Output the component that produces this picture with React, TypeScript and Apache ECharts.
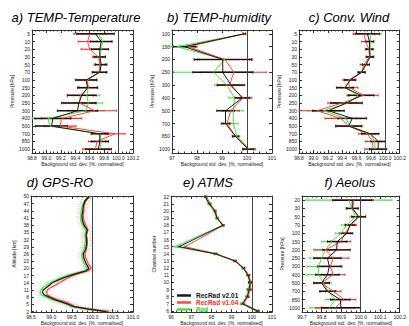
import React, { useEffect, useRef } from 'react';
import * as echarts from 'echarts';

// ---------- data ----------
const tempLevels = ['5', '10', '20', '30', '50', '70', '100', '150', '200', '250', '300', '400', '500', '700', '850', '1000'];
const humLevels = ['100', '150', '200', '250', '300', '400', '500', '700', '850', '1000'];
const windLevels = ['5', '10', '20', '30', '50', '70', '100', '150', '200', '250', '300', '400', '500', '700', '850', '1000'];
const aeolusLevels = ['20', '30', '50', '70', '100', '150', '200', '250', '300', '400', '500', '700', '850', '1000'];
const gpsAltitudes = [2, 3, 4, 5, 6, 7, 8, 9, 10, 11, 12, 13, 14, 15, 16, 17, 18, 19, 20, 22, 24, 26, 28, 30, 32, 34, 36, 38, 40, 42, 44, 46, 48, 50];
const gpsTicks = [2, 5, 8, 11, 14, 17, 20, 23, 26, 29, 32, 35, 38, 41, 44, 47, 50];
const atmsChannels = [22, 21, 20, 19, 18, 15, 14, 13, 12, 11, 10, 9, 8, 7, 6];
const atmsTicks = [6, 7, 8, 9, 10, 11, 12, 13, 14, 15, 16, 17, 18, 19, 20, 21, 22];

// a) TEMP-Temperature
const tempTV201 = [99.68, 99.76, 99.74, 99.74, 99.76, 99.74, 99.55, 99.57, 99.49, 99.45, 99.43, 99.09, 99.07, 99.74, 99.74, 99.72];
const tempTV104 = [99.6, 99.57, 99.6, 99.72, 99.74, 99.73, 99.56, 99.58, 99.47, 99.46, 99.67, 99.21, 99.19, 99.95, 99.7, 99.68];
const tempTRad = [99.72, 99.78, 99.76, 99.74, 99.74, 99.74, 99.57, 99.58, 99.56, 99.58, 99.55, 99.02, 99.05, 99.74, 99.76, 99.74];
const tempTErrV201 = [0.26, 0.15, 0.12, 0.08, 0.08, 0.1, 0.15, 0.14, 0.2, 0.24, 0.28, 0.25, 0.22, 0.12, 0.12, 0.18];
const tempTErrV104 = [0.22, 0.13, 0.12, 0.08, 0.08, 0.1, 0.14, 0.13, 0.18, 0.22, 0.3, 0.28, 0.22, 0.14, 0.12, 0.18];
const tempTErrRad = [0.22, 0.13, 0.1, 0.08, 0.07, 0.08, 0.12, 0.12, 0.18, 0.2, 0.25, 0.22, 0.2, 0.12, 0.1, 0.16];

// b) TEMP-humidity
const tempHV201 = [99.88, 97.5, 99.03, 99.03, 99.36, 99.81, 99.14, 99.14, 99.54, 100.05];
const tempHV104 = [99.9, 97.65, 99.12, 99.47, 99.3, 99.85, 99.35, 99.2, 99.55, 100.08];
const tempHRad = [99.9, 97.2, 99.1, 98.66, 99.2, 99.5, 99.45, 99.45, 99.6, 100.1];
const tempHErrV201 = [0.05, 0.45, 1.15, 1.2, 0.55, 0.3, 0.35, 0.17, 0.13, 0.22];
const tempHErrV104 = [0.05, 0.35, 1.1, 1.3, 0.5, 0.35, 0.35, 0.15, 0.12, 0.25];
const tempHErrRad = [0.05, 0.4, 1.0, 1.6, 0.5, 0.25, 0.4, 0.2, 0.12, 0.25];

// c) Conv. Wind
const windV201 = [99.75, 99.78, 99.78, 99.79, 99.73, 99.67, 99.51, 99.44, 99.66, 99.46, 99.21, 99.54, 99.49, 99.79, 99.9, 99.9];
const windV104 = [99.7, 99.73, 99.77, 99.78, 99.7, 99.67, 99.49, 99.5, 99.7, 99.4, 99.05, 99.38, 99.49, 99.75, 99.82, 99.83];
const windRad = [99.79, 99.79, 99.79, 99.78, 99.73, 99.67, 99.51, 99.44, 99.62, 99.48, 99.14, 99.45, 99.51, 99.79, 99.85, 99.86];
const windErrV201 = [0.17, 0.06, 0.05, 0.05, 0.05, 0.05, 0.08, 0.12, 0.18, 0.22, 0.22, 0.2, 0.18, 0.12, 0.1, 0.12];
const windErrV104 = [0.15, 0.06, 0.05, 0.05, 0.05, 0.05, 0.08, 0.12, 0.2, 0.2, 0.25, 0.22, 0.18, 0.12, 0.1, 0.12];
const windErrRad = [0.16, 0.05, 0.05, 0.05, 0.05, 0.05, 0.08, 0.1, 0.16, 0.2, 0.22, 0.2, 0.18, 0.12, 0.1, 0.12];

// d) GPS-RO
const gpsV201 = [100.35, 99.92, 99.55, 99.42, 99.25, 99.08, 98.95, 98.82, 98.78, 98.8, 98.88, 98.95, 99.02, 99.15, 99.3, 99.45, 99.65, 99.85, 99.92, 99.85, 99.8, 99.78, 99.84, 99.86, 99.86, 99.85, 99.88, 99.8, 99.76, 99.75, 99.77, 99.78, 99.82, 99.92];
const gpsV104 = [100.42, 99.95, 99.6, 99.48, 99.35, 99.15, 99.0, 98.9, 98.88, 98.9, 98.98, 99.1, 99.2, 99.3, 99.4, 99.52, 99.7, 99.9, 99.98, 99.9, 99.85, 99.82, 99.86, 99.88, 99.88, 99.86, 99.9, 99.84, 99.8, 99.78, 99.8, 99.8, 99.84, 99.94];
const gpsRad = [100.3, 99.88, 99.5, 99.38, 99.2, 99.02, 98.88, 98.75, 98.72, 98.74, 98.8, 98.88, 98.98, 99.1, 99.22, 99.38, 99.6, 99.8, 99.88, 99.8, 99.76, 99.74, 99.8, 99.82, 99.83, 99.82, 99.84, 99.76, 99.72, 99.72, 99.73, 99.75, 99.8, 99.9];
const gpsSpreadV201 = [0.3, 0.2, 0.15, 0.15, 0.15, 0.14, 0.14, 0.13, 0.12, 0.12, 0.12, 0.12, 0.12, 0.12, 0.12, 0.12, 0.12, 0.12, 0.1, 0.1, 0.1, 0.1, 0.1, 0.1, 0.1, 0.1, 0.1, 0.1, 0.1, 0.1, 0.1, 0.1, 0.1, 0.1];
const gpsSpreadV104 = [0.32, 0.22, 0.16, 0.15, 0.15, 0.15, 0.14, 0.14, 0.13, 0.13, 0.12, 0.12, 0.12, 0.12, 0.12, 0.12, 0.12, 0.12, 0.11, 0.1, 0.1, 0.1, 0.1, 0.1, 0.1, 0.1, 0.1, 0.1, 0.1, 0.1, 0.1, 0.1, 0.1, 0.1];
const gpsSpreadRad = [0.28, 0.2, 0.15, 0.14, 0.14, 0.14, 0.13, 0.13, 0.12, 0.12, 0.12, 0.12, 0.12, 0.12, 0.12, 0.12, 0.12, 0.11, 0.1, 0.1, 0.1, 0.1, 0.1, 0.1, 0.1, 0.1, 0.1, 0.1, 0.1, 0.1, 0.1, 0.1, 0.1, 0.1];

// e) ATMS
const atmsV201 = [97.7, 97.9, 98.17, 98.28, 98.57, 96.4, 98.2, 99.17, 99.58, 99.82, 99.92, 99.87, 99.78, 99.53, 100.28];
const atmsV104 = [97.75, 97.95, 98.2, 98.3, 98.6, 96.7, 98.25, 99.2, 99.62, 99.85, 99.95, 99.92, 99.82, 99.6, 100.32];
const atmsRad = [97.68, 97.85, 98.12, 98.25, 98.55, 96.2, 98.15, 99.15, 99.56, 99.8, 99.9, 99.82, 99.75, 99.48, 100.22];
const atmsErrV201 = [0.04, 0.04, 0.04, 0.04, 0.04, 0.05, 0.05, 0.05, 0.05, 0.06, 0.08, 0.08, 0.06, 0.06, 0.06];
const atmsErrV104 = [0.04, 0.04, 0.04, 0.04, 0.04, 0.05, 0.05, 0.05, 0.05, 0.06, 0.08, 0.08, 0.06, 0.06, 0.06];
const atmsErrRad = [0.04, 0.04, 0.04, 0.04, 0.04, 0.05, 0.05, 0.05, 0.05, 0.06, 0.08, 0.08, 0.06, 0.06, 0.06];

// f) Aeolus
const aeolusV201 = [99.957, 99.957, 99.99, 99.946, 99.93, 99.88, 99.877, 99.83, 99.84, 99.83, 99.8, 99.83, 99.895, 99.9];
const aeolusV104 = [99.965, 99.96, 99.99, 99.95, 99.92, 99.9, 99.82, 99.86, 99.845, 99.86, 99.8, 99.86, 99.915, 99.87];
const aeolusRad = [99.94, 99.955, 99.975, 99.93, 99.9, 99.85, 99.82, 99.8, 99.785, 99.785, 99.81, 99.835, 99.87, 99.84];
const aeolusErrV201 = [0.1, 0.03, 0.035, 0.025, 0.03, 0.05, 0.07, 0.07, 0.06, 0.06, 0.04, 0.04, 0.05, 0.1];
const aeolusErrV104 = [0.1, 0.03, 0.035, 0.03, 0.03, 0.05, 0.06, 0.08, 0.06, 0.06, 0.04, 0.04, 0.06, 0.1];
const aeolusErrRad = [0.22, 0.03, 0.03, 0.03, 0.03, 0.05, 0.05, 0.06, 0.06, 0.06, 0.04, 0.04, 0.05, 0.1];

// ---------- styling ----------
const FONT = '"Liberation Sans", Arial, Helvetica, sans-serif';
const BLACK = '#1a1a1a';
const RED = '#ff4545';
const GREEN = '#3ee83e';
const AXIS = '#333';
const XNAME = 'Background std. dev. [%, normalised]';

type Panel = {
  title: string; tx: number; ty: number;
  grid: { left: number; top: number; width: number; height: number };
  xMin: number; xMax: number; xInt: number; xDec: number;
  yName: string; yNameGap: number;
  levels?: string[]; pad?: number;
  yVals?: number[]; yMin?: number; yMax?: number; yTicks?: number[];
  black: number[]; red: number[]; green: number[];
  errB: number[]; errR: number[]; errG: number[];
  envelope?: boolean;
};

const panels: Panel[] = [
  { title: 'a) TEMP-Temperature', tx: 76, ty: 17, grid: { left: 32, top: 30, width: 101, height: 123 },
    xMin: 98.8, xMax: 100.2, xInt: 0.2, xDec: 1, yName: 'Pressure [hPa]', yNameGap: 16,
    levels: tempLevels, pad: 0.5, black: tempTV201, red: tempTV104, green: tempTRad,
    errB: tempTErrV201, errR: tempTErrV104, errG: tempTErrRad },
  { title: 'b) TEMP-humidity', tx: 219, ty: 17, grid: { left: 172, top: 30, width: 100, height: 123 },
    xMin: 97, xMax: 101, xInt: 1, xDec: 0, yName: 'Pressure [hPa]', yNameGap: 16,
    levels: humLevels, pad: 0.3, black: tempHV201, red: tempHV104, green: tempHRad,
    errB: tempHErrV201, errR: tempHErrV104, errG: tempHErrRad },
  { title: 'c) Conv. Wind', tx: 349, ty: 17, grid: { left: 299, top: 30, width: 107, height: 123 },
    xMin: 98.8, xMax: 100.2, xInt: 0.2, xDec: 1, yName: 'Pressure [hPa]', yNameGap: 12,
    levels: windLevels, pad: 0.5, black: windV201, red: windV104, green: windRad,
    errB: windErrV201, errR: windErrV104, errG: windErrRad },
  { title: 'd) GPS-RO', tx: 60, ty: 182, grid: { left: 31, top: 196, width: 102, height: 118 },
    xMin: 98.5, xMax: 101, xInt: 0.5, xDec: 1, yName: 'Altitude [km]', yNameGap: 15,
    yVals: gpsAltitudes, yMin: 1.8, yMax: 50.2, yTicks: gpsTicks,
    black: gpsV201, red: gpsV104, green: gpsRad,
    errB: gpsSpreadV201, errR: gpsSpreadV104, errG: gpsSpreadRad, envelope: true },
  { title: 'e) ATMS', tx: 208, ty: 182, grid: { left: 171, top: 196, width: 101, height: 118 },
    xMin: 96, xMax: 101, xInt: 1, xDec: 0, yName: 'Channel number', yNameGap: 15,
    yVals: atmsChannels, yMin: 5.85, yMax: 22.1, yTicks: atmsTicks,
    black: atmsV201, red: atmsV104, green: atmsRad,
    errB: atmsErrV201, errR: atmsErrV104, errG: atmsErrRad },
  { title: 'f) Aeolus', tx: 350, ty: 182, grid: { left: 302, top: 196, width: 105, height: 118 },
    xMin: 99.7, xMax: 100.2, xInt: 0.1, xDec: 1, yName: 'Pressure [hPa]', yNameGap: 14,
    levels: aeolusLevels, pad: 0.5, black: aeolusV201, red: aeolusV104, green: aeolusRad,
    errB: aeolusErrV201, errR: aeolusErrV104, errG: aeolusErrRad },
];

function buildOption() {
  const grid: any[] = [];
  const xAxis: any[] = [];
  const yAxis: any[] = [];
  const series: any[] = [];
  const graphic: any[] = [];

  panels.forEach((p, i) => {
    grid.push({ ...p.grid, containLabel: false });
    const ys = p.levels ? p.levels.map((_, k) => k) : (p.yVals as number[]);
    const yMin = p.levels ? -(p.pad as number) : (p.yMin as number);
    const yMax = p.levels ? p.levels.length - 1 + (p.pad as number) : (p.yMax as number);
    const yTicks = p.levels ? p.levels.map((_, k) => k) : (p.yTicks as number[]);
    const yFmt = (v: number) => (p.levels ? (p.levels as string[])[Math.round(v)] : String(v));

    const xCommon = {
      type: 'value', gridIndex: i, min: p.xMin, max: p.xMax, interval: p.xInt,
      axisLine: { show: true, onZero: false, lineStyle: { color: AXIS, width: 1 } },
      axisTick: { show: true, inside: true, length: 3, lineStyle: { color: AXIS } },
      minorTick: { show: true, splitNumber: 4, length: 1.5, lineStyle: { color: AXIS } },
      splitLine: { show: false },
    };
    xAxis.push({
      ...xCommon, position: 'bottom',
      axisLabel: { show: true, fontSize: 5, color: '#222', margin: 2, fontFamily: FONT,
        formatter: (v: number) => v.toFixed(p.xDec) },
      name: XNAME, nameLocation: 'middle', nameGap: 8,
      nameTextStyle: { fontSize: 5, color: '#222', fontFamily: FONT },
    });
    xAxis.push({ ...xCommon, position: 'top', axisLabel: { show: false } });

    const yCommon = {
      type: 'value', gridIndex: i, min: yMin, max: yMax, inverse: !!p.levels,
      axisLine: { show: true, onZero: false, lineStyle: { color: AXIS, width: 1 } },
      axisTick: { show: true, inside: true, length: 3, customValues: yTicks, lineStyle: { color: AXIS } },
      splitLine: { show: false },
    };
    yAxis.push({
      ...yCommon, position: 'left',
      axisLabel: { show: true, fontSize: 5, color: '#222', margin: 2, fontFamily: FONT,
        customValues: yTicks, formatter: yFmt },
      name: p.yName, nameLocation: 'middle', nameGap: p.yNameGap, nameRotate: 90,
      nameTextStyle: { fontSize: 5, color: '#222', fontFamily: FONT },
    });
    yAxis.push({ ...yCommon, position: 'right', axisLabel: { show: false } });

    const sets = [
      { name: 'Rad', vals: p.green, err: p.errG, color: GREEN, bar: GREEN, bw: 1.1, env: 'rgba(60,220,60,0.55)' },
      { name: 'RecRad v1.04', vals: p.red, err: p.errR, color: RED, bar: '#e83030', bw: 1.1, env: 'rgba(255,90,90,0.55)' },
      { name: 'RecRad v2.01', vals: p.black, err: p.errB, color: BLACK, bar: '#2a0c0c', bw: 1.5, env: 'rgba(90,90,90,0.5)' },
    ];

    sets.forEach((s) => {
      if (p.envelope) {
        [-1, 1].forEach((sign) => {
          series.push({
            type: 'line', name: s.name + ' spread', xAxisIndex: 2 * i, yAxisIndex: 2 * i,
            data: s.vals.map((v, k) => [v + sign * s.err[k], ys[k]]),
            showSymbol: false, symbol: 'none', silent: true,
            lineStyle: { color: s.env, width: 0.7, type: [1, 1.5] },
            z: 1,
          });
        });
      } else {
        series.push({
          type: 'custom', name: s.name + ' err', xAxisIndex: 2 * i, yAxisIndex: 2 * i,
          data: s.vals.map((v, k) => [v, ys[k], s.err[k]]),
          encode: { x: 0, y: 1 }, silent: true, z: 2,
          renderItem: (_params: any, api: any) => {
            const x = api.value(0), y = api.value(1), e = api.value(2);
            const a = api.coord([x - e, y]);
            const b = api.coord([x + e, y]);
            const h = 1.3;
            const st = { stroke: s.bar, lineWidth: s.bw, fill: null };
            const cs = { stroke: s.bar, lineWidth: 0.8, fill: null };
            return {
              type: 'group',
              children: [
                { type: 'line', shape: { x1: a[0], y1: a[1], x2: b[0], y2: b[1] }, style: st },
                { type: 'line', shape: { x1: a[0], y1: a[1] - h, x2: a[0], y2: a[1] + h }, style: cs },
                { type: 'line', shape: { x1: b[0], y1: b[1] - h, x2: b[0], y2: b[1] + h }, style: cs },
              ],
            };
          },
        });
      }
    });

    sets.forEach((s, si) => {
      const ser: any = {
        type: 'line', name: s.name, xAxisIndex: 2 * i, yAxisIndex: 2 * i,
        data: s.vals.map((v, k) => [v, ys[k]]),
        showSymbol: false, symbol: 'none', color: s.color,
        lineStyle: { color: s.color, width: p.envelope ? 1.3 : 1 },
        z: 3,
      };
      if (si === 2) {
        ser.markLine = {
          silent: true, symbol: 'none', label: { show: false },
          lineStyle: { color: '#444', width: 1, type: 'solid' },
          data: [{ xAxis: 100 }],
        };
      }
      series.push(ser);
    });

    graphic.push({
      type: 'text', x: p.tx, y: p.ty, z: 10,
      style: { text: p.title, fontSize: 13, fontStyle: 'italic', fontFamily: FONT, fill: '#000',
        align: 'center', verticalAlign: 'middle' },
    });
  });

  return {
    animation: false,
    backgroundColor: '#fff',
    grid, xAxis, yAxis, series, graphic,
    legend: {
      orient: 'vertical', left: 177, top: 292, icon: 'rect', itemWidth: 14, itemHeight: 2.5,
      itemGap: 0, padding: 0, selectedMode: false,
      textStyle: { fontSize: 6.5, fontWeight: 'bold', fontFamily: FONT, lineHeight: 7 },
      data: [
        { name: 'RecRad v2.01', textStyle: { color: '#111' } },
        { name: 'RecRad v1.04', textStyle: { color: '#ff2a2a' } },
        { name: 'Rad', textStyle: { color: '#33dd33' } },
      ],
    },
  };
}

export default function App() {
  const ref = useRef<HTMLDivElement>(null);
  useEffect(() => {
    if (!ref.current) return;
    const chart = echarts.init(ref.current, null, { renderer: 'svg' });
    chart.setOption(buildOption() as any);
    return () => chart.dispose();
  }, []);
  return (
    <div
      ref={ref}
      style={{ position: 'fixed', left: 0, top: 0, width: 409, height: 326, background: '#fff' }}
    />
  );
}
